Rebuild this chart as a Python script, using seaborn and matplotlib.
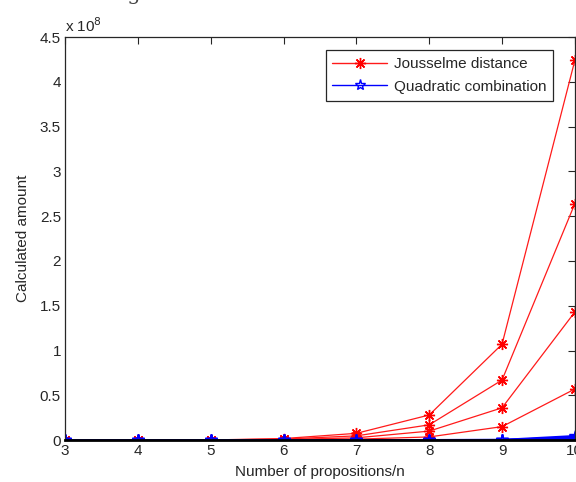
import numpy as np
import pandas as pd
import seaborn as sns
import matplotlib.pyplot as plt
from matplotlib.lines import Line2D
from matplotlib.ticker import FuncFormatter

# ----- Data -----
n_props = [3, 4, 5, 6, 7, 8, 9, 10]

# Jousselme distance, four curves
jous_a = [0.0, 0.0001e8, 0.001e8, 0.017e8, 0.075e8, 0.28e8, 1.07e8, 4.24e8]
jous_b = [0.0, 0.0001e8, 0.0007e8, 0.011e8, 0.047e8, 0.17e8, 0.67e8, 2.64e8]
jous_c = [0.0, 0.0, 0.0004e8, 0.006e8, 0.025e8, 0.10e8, 0.36e8, 1.43e8]
jous_d = [0.0, 0.0, 0.0002e8, 0.002e8, 0.01e8, 0.035e8, 0.15e8, 0.57e8]

# Quadratic combination, four curves (all near zero)
quad_a = [0.0, 0.0, 0.0, 0.0, 0.0001e8, 0.0005e8, 0.002e8, 0.045e8]
quad_b = [0.0, 0.0, 0.0, 0.0, 0.0, 0.0003e8, 0.001e8, 0.03e8]
quad_c = [0.0, 0.0, 0.0, 0.0, 0.0, 0.0002e8, 0.0007e8, 0.018e8]
quad_d = [0.0, 0.0, 0.0, 0.0, 0.0, 0.0001e8, 0.0003e8, 0.008e8]

labels = ["Jousselme distance", "Quadratic combination"]

rows = []
for name, vals in [("ja", jous_a), ("jb", jous_b), ("jc", jous_c), ("jd", jous_d)]:
    for n, v in zip(n_props, vals):
        rows.append((n, v, name, labels[0]))
for name, vals in [("qa", quad_a), ("qb", quad_b), ("qc", quad_c), ("qd", quad_d)]:
    for n, v in zip(n_props, vals):
        rows.append((n, v, name, labels[1]))
df = pd.DataFrame(rows, columns=["n", "amount", "curve", "method"])

# ----- Plot -----
sns.set_style("white")
plt.rcParams["font.family"] = ["Liberation Sans", "DejaVu Sans"]

fig = plt.figure(figsize=(5.76, 4.82), dpi=100)
ax = fig.add_axes([0.113, 0.087, 0.885, 0.836])

asterisk = (8, 2, 0)

sns.lineplot(data=df[df.method == labels[0]], x="n", y="amount", units="curve",
             estimator=None, color="#ff1a1a", lw=0.9, marker=asterisk, ms=8,
             mec="red", mew=1, ax=ax, legend=False)
sns.lineplot(data=df[df.method == labels[1]], x="n", y="amount", units="curve",
             estimator=None, color="blue", lw=1.5, marker="*", ms=9,
             mfc="none", mec="blue", mew=1, ax=ax, legend=False)

ax.set_xlim(3, 10)
ax.set_ylim(0, 4.5e8)
ax.set_xticks(n_props)
ax.set_yticks(np.arange(0, 4.51e8, 0.5e8))
ax.yaxis.set_major_formatter(FuncFormatter(lambda v, p: f"{v / 1e8:g}"))
ax.tick_params(direction="in", top=True, right=True, length=5, width=0.8,
               labelsize=11, colors="#262626", pad=3)
for sp in ax.spines.values():
    sp.set_color("#262626")
    sp.set_linewidth(0.9)
ax.spines["bottom"].set_color("black")
ax.spines["bottom"].set_linewidth(2)

ax.set_xlabel("Number of propositions/n", fontsize=11, color="#262626", labelpad=5)
ax.set_ylabel("Calculated amount", fontsize=11, color="#262626", labelpad=7)
ax.text(0.0, 1.006, r"x 10$^{8}$", transform=ax.transAxes, fontsize=11,
        color="#262626", ha="left", va="bottom")

handles = [
    Line2D([], [], color="#ff1a1a", lw=1, marker=asterisk, ms=8, mec="red"),
    Line2D([], [], color="blue", lw=1, marker="*", ms=8, mfc="none", mec="blue"),
]
leg = ax.legend(handles, labels, loc="upper right", bbox_to_anchor=(0.957, 0.967),
                fontsize=11, frameon=True, fancybox=False, edgecolor="#262626",
                framealpha=1, borderpad=0.45, handlelength=3.6, labelspacing=0.55,
                handletextpad=0.4, borderaxespad=0)
leg.get_frame().set_linewidth(0.9)

# clipped caption text from the page above the figure
fig.text(0.15, 1.012, "in figure 3.", fontsize=15, family="DejaVu Serif",
         color="#444444", ha="left", va="center")

fig.savefig("out.png", dpi=100)
